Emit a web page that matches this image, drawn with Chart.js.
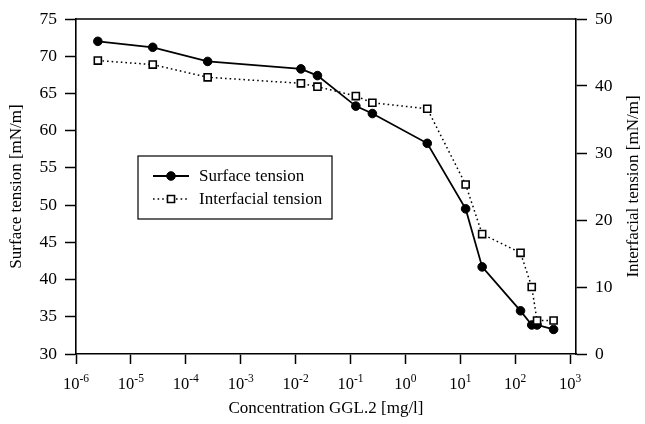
<!DOCTYPE html>
<html><head><meta charset="utf-8">
<script src="https://cdn.jsdelivr.net/npm/chart.js@4.4.1/dist/chart.umd.min.js"></script>
<style>html,body{margin:0;padding:0;background:#fff}#wrap{width:645px;height:424px}</style>
</head><body><div id="wrap"><canvas id="c" width="645" height="424"></canvas></div>
<script>
const concentration = [2.5e-6, 2.5e-5, 2.5e-4, 1.25e-2, 2.5e-2, 0.125, 0.25, 2.5, 12.5, 25, 125, 200, 250, 500];
const surfaceTension = [72.0, 71.2, 69.3, 68.3, 67.4, 63.3, 62.3, 58.3, 49.5, 41.7, 35.8, 33.9, 33.9, 33.3];
const interfacialTension = [43.8, 43.2, 41.3, 40.4, 39.9, 38.5, 37.5, 36.6, 25.3, 17.9, 15.1, 10.0, 5.0, 5.0];
const xTickValues = [1e-6, 1e-5, 1e-4, 1e-3, 1e-2, 1e-1, 1, 10, 100, 1000];
const xTickExponents = ['-6', '-5', '-4', '-3', '-2', '-1', '0', '1', '2', '3'];
const seriesLabels = ['Surface tension', 'Interfacial tension'];
const axisTitles = { x: 'Concentration GGL.2 [mg/l]', yLeft: 'Surface tension [mN/m]', yRight: 'Interfacial tension [mN/m]' };

const FONT = "'Liberation Serif', 'Times New Roman', serif";

const surfaceData = concentration.map((c, i) => ({ x: c, y: surfaceTension[i] }));
const interfacialData = concentration.map((c, i) => ({ x: c, y: interfacialTension[i] }));

const decorPlugin = {
  id: 'decor',
  afterDraw(chart) {
    const ctx = chart.ctx;
    const a = chart.chartArea;
    ctx.save();
    // top frame line
    ctx.strokeStyle = '#000';
    ctx.lineWidth = 1.5;
    ctx.beginPath();
    ctx.moveTo(a.left, a.top);
    ctx.lineTo(a.right, a.top);
    ctx.stroke();

    // x tick labels with superscript exponents
    const xs = chart.scales.x;
    ctx.fillStyle = '#000';
    ctx.textBaseline = 'alphabetic';
    ctx.textAlign = 'left';
    xTickValues.forEach((v, i) => {
      const px = xs.getPixelForValue(v);
      ctx.font = '16.5px ' + FONT;
      const wb = ctx.measureText('10').width;
      ctx.font = '11.5px ' + FONT;
      const we = ctx.measureText(xTickExponents[i]).width;
      const x0 = px - (wb + we) / 2;
      ctx.font = '16.5px ' + FONT;
      ctx.fillText('10', x0, 389);
      ctx.font = '11.5px ' + FONT;
      ctx.fillText(xTickExponents[i], x0 + wb, 382);
    });

    // right axis title (reads bottom to top)
    ctx.font = '17px ' + FONT;
    ctx.textAlign = 'center';
    ctx.textBaseline = 'middle';
    ctx.translate(634, (a.top + a.bottom) / 2);
    ctx.rotate(-Math.PI / 2);
    ctx.fillText(axisTitles.yRight, 0, 0);
    ctx.restore();

    // legend
    ctx.save();
    const lx = 138, ly = 156, lw = 194, lh = 63;
    ctx.fillStyle = '#fff';
    ctx.fillRect(lx, ly, lw, lh);
    ctx.strokeStyle = '#000';
    ctx.lineWidth = 1.2;
    ctx.strokeRect(lx, ly, lw, lh);
    const rows = [176, 199];
    const ds = chart.data.datasets;
    rows.forEach((ry, i) => {
      const d = ds[i];
      ctx.strokeStyle = '#000';
      ctx.lineWidth = d.borderWidth;
      ctx.setLineDash(d.borderDash || []);
      ctx.beginPath();
      ctx.moveTo(153, ry);
      ctx.lineTo(189, ry);
      ctx.stroke();
      ctx.setLineDash([]);
      ctx.fillStyle = d.pointBackgroundColor;
      ctx.strokeStyle = d.pointBorderColor;
      ctx.lineWidth = d.pointBorderWidth;
      ctx.beginPath();
      if (d.pointStyle === 'circle') {
        ctx.arc(171, ry, d.pointRadius, 0, Math.PI * 2);
      } else {
        const s = Math.SQRT1_2 * d.pointRadius;
        ctx.rect(171 - s, ry - s, 2 * s, 2 * s);
      }
      ctx.fill();
      ctx.stroke();
      ctx.fillStyle = '#000';
      ctx.font = '17px ' + FONT;
      ctx.textAlign = 'left';
      ctx.textBaseline = 'middle';
      ctx.fillText(d.label, 199, ry + 1);
    });
    ctx.restore();
  }
};

new Chart(document.getElementById('c'), {
  type: 'scatter',
  data: {
    datasets: [
      {
        label: seriesLabels[0],
        data: surfaceData,
        yAxisID: 'y',
        showLine: true,
        borderColor: '#000',
        borderWidth: 1.8,
        pointStyle: 'circle',
        pointRadius: 4.3,
        pointBorderWidth: 1,
        pointBackgroundColor: '#000',
        pointBorderColor: '#000',
        order: 1
      },
      {
        label: seriesLabels[1],
        data: interfacialData,
        yAxisID: 'y2',
        showLine: true,
        borderColor: '#000',
        borderWidth: 1.5,
        borderDash: [1.6, 3],
        pointStyle: 'rect',
        pointRadius: 5,
        pointBorderWidth: 1.6,
        pointBackgroundColor: '#fff',
        pointBorderColor: '#000',
        order: 0
      }
    ]
  },
  options: {
    responsive: false,
    animation: false,
    devicePixelRatio: 1,
    layout: { padding: { top: 19, left: 0, right: 0, bottom: 0 } },
    plugins: { legend: { display: false }, tooltip: { enabled: false } },
    scales: {
      x: {
        type: 'logarithmic',
        position: 'bottom',
        min: 1e-6,
        max: 1280,
        afterBuildTicks(scale) { scale.ticks = xTickValues.map(v => ({ value: v })); },
        afterFit(scale) { scale.height = 70; },
        grid: { display: true, drawOnChartArea: false, drawTicks: true, tickLength: 10, tickWidth: 1.5, color: '#000' },
        border: { display: true, color: '#000', width: 1.6 },
        ticks: { display: false },
        title: { display: true, text: axisTitles.x, color: '#000', font: { family: FONT, size: 17 }, padding: { top: 0, bottom: 5 } }
      },
      y: {
        type: 'linear',
        position: 'left',
        min: 30,
        max: 75,
        afterFit(scale) { scale.width = 76; },
        ticks: { stepSize: 5, color: '#000', font: { family: FONT, size: 17.5 }, padding: 8 },
        grid: { display: true, drawOnChartArea: false, drawTicks: true, tickLength: 11, tickWidth: 1.5, color: '#000' },
        border: { display: true, color: '#000', width: 1.6 },
        title: { display: true, text: axisTitles.yLeft, color: '#000', font: { family: FONT, size: 17 }, padding: { top: 6, bottom: 0 } }
      },
      y2: {
        type: 'linear',
        position: 'right',
        min: 0,
        max: 50,
        afterFit(scale) { scale.width = 69; },
        ticks: { stepSize: 10, color: '#000', font: { family: FONT, size: 17.5 }, padding: 8 },
        grid: { display: true, drawOnChartArea: false, drawTicks: true, tickLength: 11, tickWidth: 1.5, color: '#000' },
        border: { display: true, color: '#000', width: 1.6 },
        title: { display: false }
      }
    }
  },
  plugins: [decorPlugin]
});
</script>
</body></html>
